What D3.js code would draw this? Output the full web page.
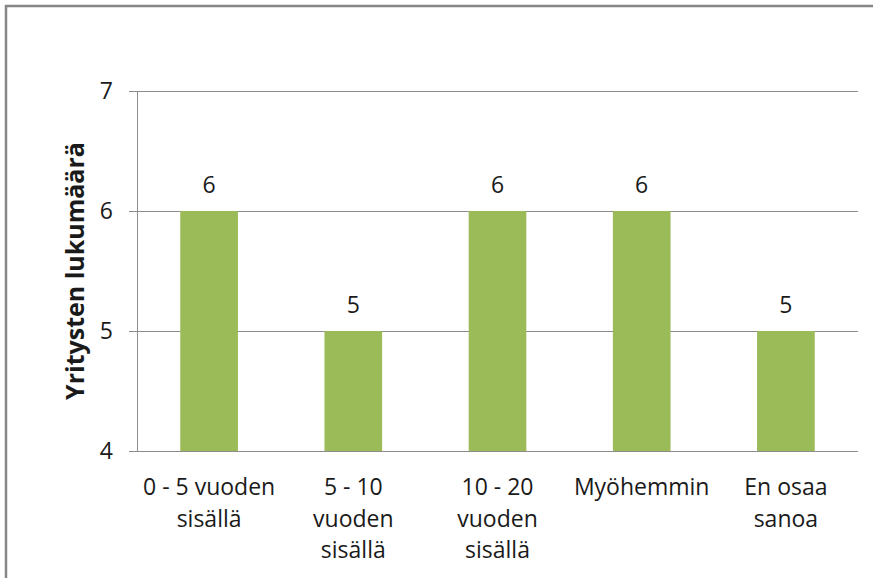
<!DOCTYPE html>
<html lang="fi">
  <head>
    <meta charset="UTF-8" />
    <title>Yritysten lukumäärä</title>
    <script src="https://cdnjs.cloudflare.com/ajax/libs/d3/7.8.5/d3.min.js"></script>
    <style>
      body {
        margin: 0;
        background: #fff;
      }
      text {
        font-family: 'Open Sans', sans-serif;
        fill: #1a1a1a;
      }
    </style>
  </head>
  <body>
    <svg width="873" height="578"></svg>
    <script>
      // Data
      const categories = ['0 - 5 vuoden|sisällä', '5 - 10|vuoden|sisällä', '10 - 20|vuoden|sisällä', 'Myöhemmin', 'En osaa|sanoa'];
      const values = [6, 5, 6, 6, 5];
      const yTicks = [4, 5, 6, 7];
      const yTitle = 'Yritysten lukumäärä';

      const svg = d3.select('svg');
      const margin = { left: 137, right: 15, top: 91, bottom: 127 };
      const width = 873, height = 578;

      // outer chart border
      svg.append('rect')
        .attr('x', 6).attr('y', 6)
        .attr('width', width + 10).attr('height', height + 10)
        .attr('fill', 'none').attr('stroke', '#868686').attr('stroke-width', 2.5);

      const x = d3.scaleBand()
        .domain(categories)
        .range([margin.left, width - margin.right])
        .paddingInner(0.6)
        .paddingOuter(0.3);

      const y = d3.scaleLinear()
        .domain([4, 7])
        .range([height - margin.bottom, margin.top]);

      // gridlines + tick marks
      svg.append('g')
        .selectAll('line')
        .data(yTicks)
        .join('line')
        .attr('x1', margin.left - 8)
        .attr('x2', width - margin.right)
        .attr('y1', d => y(d) + 0.5)
        .attr('y2', d => y(d) + 0.5)
        .attr('stroke', '#8c8c8c')
        .attr('stroke-width', 1);

      // bars
      svg.append('g')
        .selectAll('rect')
        .data(values)
        .join('rect')
        .attr('x', (d, i) => x(categories[i]))
        .attr('y', d => y(d))
        .attr('width', x.bandwidth())
        .attr('height', d => y(4) - y(d))
        .attr('fill', '#9bbb59');

      // y axis line
      svg.append('line')
        .attr('x1', margin.left + 0.5).attr('x2', margin.left + 0.5)
        .attr('y1', y(7)).attr('y2', y(4))
        .attr('stroke', '#8c8c8c');

      // y tick labels
      svg.append('g')
        .selectAll('text')
        .data(yTicks)
        .join('text')
        .attr('x', 113)
        .attr('y', d => y(d))
        .attr('dy', '0.36em')
        .attr('text-anchor', 'end')
        .style('font-size', '23px')
        .text(d => d);

      // value labels
      svg.append('g')
        .selectAll('text')
        .data(values)
        .join('text')
        .attr('x', (d, i) => x(categories[i]) + x.bandwidth() / 2)
        .attr('y', d => y(d) - 18)
        .attr('text-anchor', 'middle')
        .style('font-size', '23px')
        .text(d => d);

      // category labels
      const cat = svg.append('g')
        .selectAll('text')
        .data(categories)
        .join('text')
        .attr('x', d => x(d) + x.bandwidth() / 2)
        .attr('y', 495)
        .attr('text-anchor', 'middle')
        .style('font-size', '23px');
      cat.selectAll('tspan')
        .data(d => d.split('|'))
        .join('tspan')
        .attr('x', function () { return this.parentNode.getAttribute('x'); })
        .attr('dy', (d, i) => (i === 0 ? 0 : 31.5))
        .text(d => d);

      // y title
      svg.append('text')
        .attr('transform', `translate(84,${(y(4) + y(7)) / 2}) rotate(-90)`)
        .attr('text-anchor', 'middle')
        .style('font-size', '25px')
        .style('font-weight', 'bold')
        .text(yTitle);
    </script>
  </body>
</html>
